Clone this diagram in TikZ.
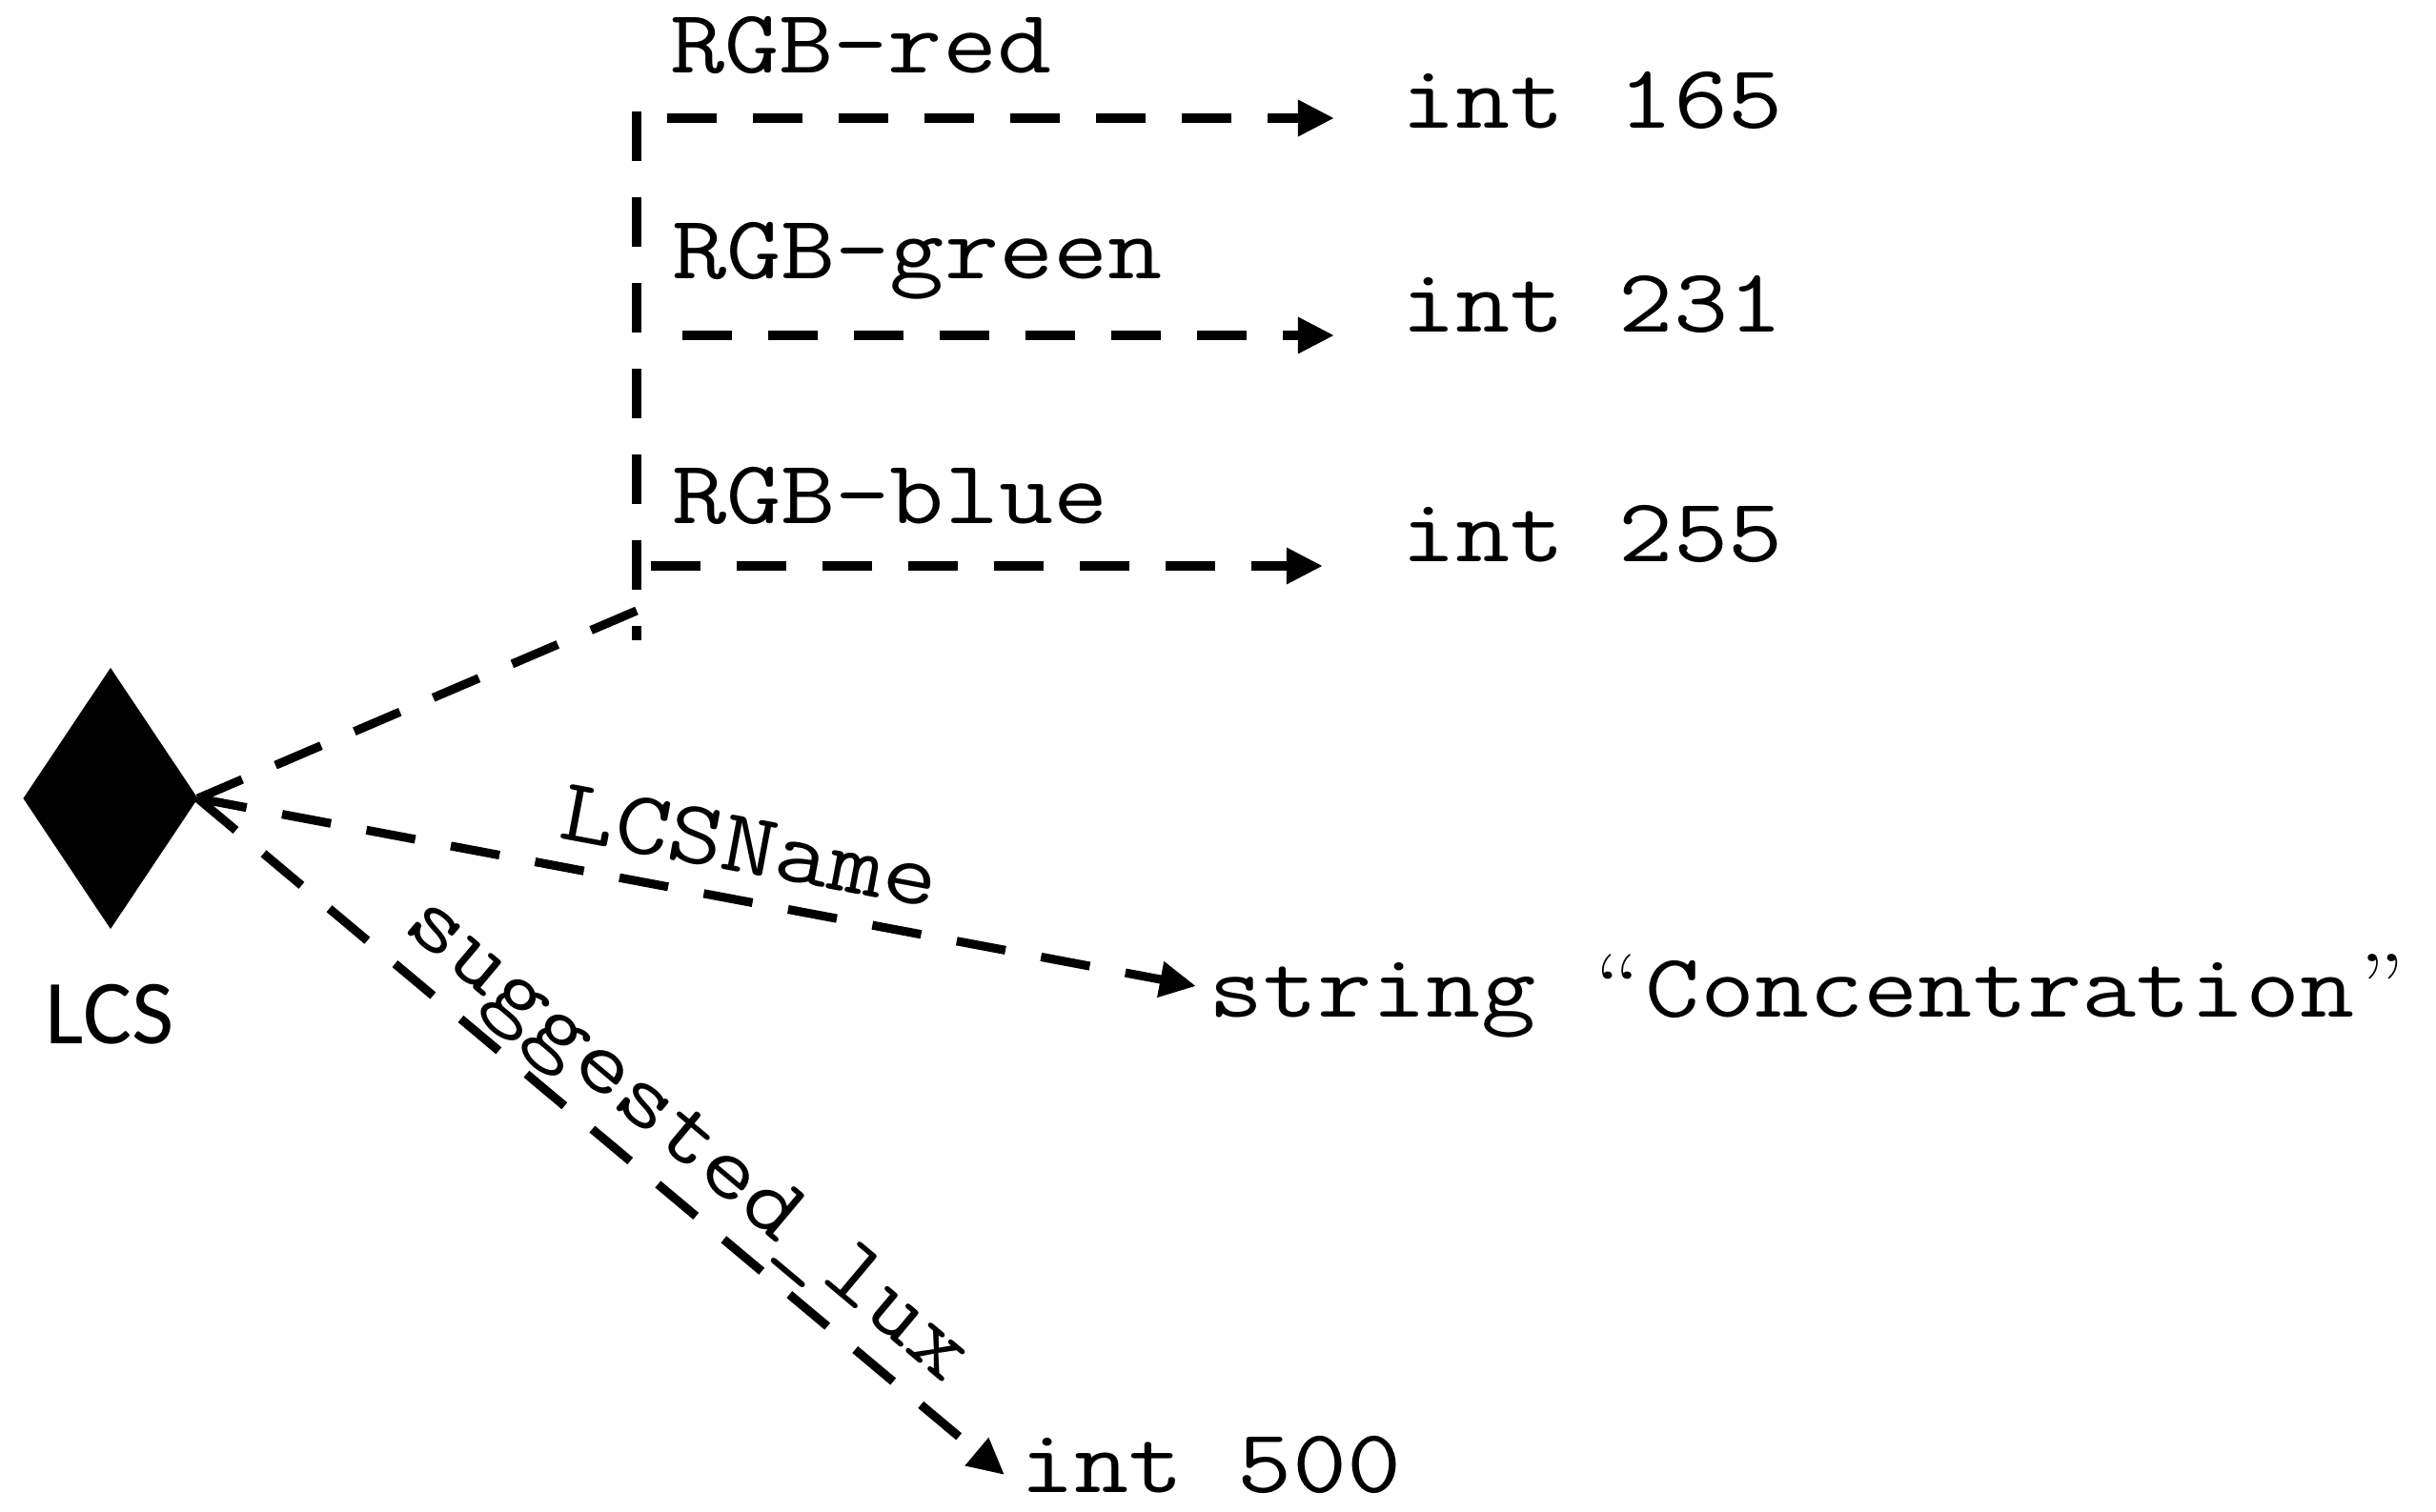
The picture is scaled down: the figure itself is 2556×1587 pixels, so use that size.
\documentclass[tikz,border=0pt]{standalone}
\usepackage{fontspec}
\usepackage{graphicx}
\newfontfamily\lcsfont{Carlito}
\usetikzlibrary{arrows.meta,shapes.geometric,calc}
\newcommand{\cmono}[1]{\scalebox{1.17}[1]{#1}}
\newcommand{\cqleft}{\makebox[0.525em]{\rmfamily “}}
\newcommand{\cqright}{\makebox[0.525em]{\rmfamily ”}}
\begin{document}
\begin{tikzpicture}[x=0.01cm,y=-0.01cm,
  conn/.style={line width=2.6pt, dash pattern=on 14.8pt off 10.8pt},
  arr/.style={conn, -{Triangle[length=0.38cm,width=0.36cm]}},
  val/.style={inner sep=0, outer sep=0, anchor=base west, font=\fontsize{27}{32}\selectfont\ttfamily},
  lbl/.style={inner sep=0, outer sep=0, font=\fontsize{27}{32}\selectfont\ttfamily},
]
\useasboundingbox (0,0) rectangle (2556,1587);
\fill[white] (0,0) rectangle (2556,1587);

% LCS diamond
\node[diamond, fill=black, draw=none, inner sep=0, outer sep=0,
      minimum width=1.83cm, minimum height=2.74cm] (lcs) at (116,838) {};
\node[font=\lcsfont\fontsize{27.3}{32}\selectfont, anchor=base, inner sep=0] (lcslbl) at (115,1095) {LCS};

% value nodes
\node[val] (v165) at (1470,134) {\cmono{int 165}};
\node[val] (v231) at (1470,348) {\cmono{int 231}};
\node[val] (v255) at (1470,589) {\cmono{int 255}};
\node[val] (vstr) at (1268,1067) {\cmono{string \cqleft Concentration\cqright}};
\node[val] (v500) at (1070,1566) {\cmono{int 500}};

% edge labels
\node[val] (lred)   at (703,76)  {\cmono{RGB-red}};
\node[val] (lgreen) at (705,292) {\cmono{RGB-green}};
\node[val] (lblue)  at (705,549) {\cmono{RGB-blue}};
\node[lbl, rotate=-10.6] (lname) at (787,888) {\cmono{LCSName}};
\node[lbl, rotate=-40] (llux) at (718,1200) {\cmono{suggested\_lux}};

% trunk
\coordinate (ttop) at (668,117);
\coordinate (tbot) at (668,672);
\coordinate (tcorner) at (668,641);
\draw[conn] (ttop) -- (tbot);
\draw[conn] (tcorner) -- (lcs.east);

% RGB arrows
\coordinate (r0) at (700,124);
\coordinate (r1) at ($(v165.base west)+(-70,-10)$);
\draw[arr] (r0) -- (r1);
\coordinate (g0) at (716,352);
\coordinate (g1) at ($(v231.base west)+(-70,4)$);
\draw[arr] (g0) -- (g1);
\coordinate (b0) at (683,594);
\coordinate (b1) at ($(v255.base west)+(-82,5)$);
\draw[arr] (b0) -- (b1);

% LCS arrows
\coordinate (s1) at ($(vstr.base west)+(-13,-32)$);
\draw[arr] (lcs.east) -- (s1);
\coordinate (u1) at ($(v500.base west)+(-16,-18)$);
\draw[arr] (lcs.east) -- (u1);
\end{tikzpicture}
\end{document}
